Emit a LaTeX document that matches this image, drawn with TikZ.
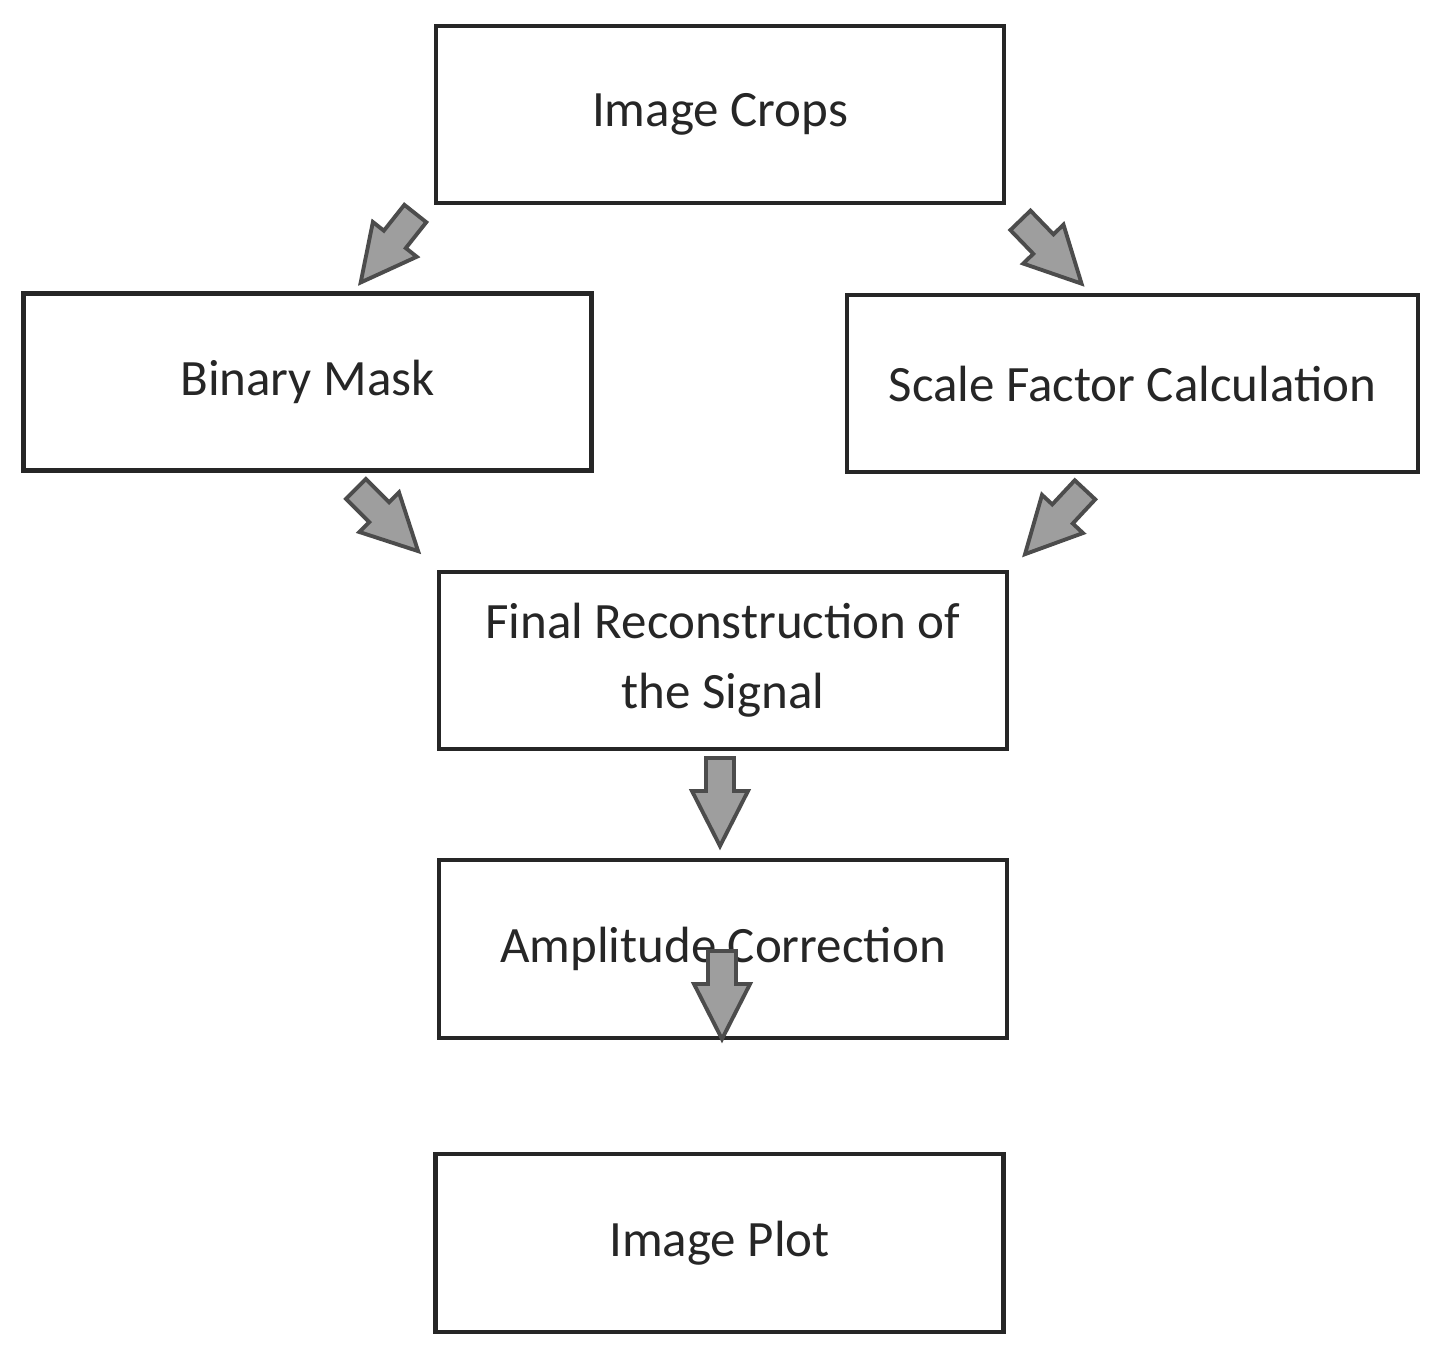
\documentclass[tikz,border=0pt]{standalone}
\usepackage{fontspec}
\setmainfont{Carlito}
\begin{document}
\begin{tikzpicture}[
  box/.style={draw=black!85, line width=1.3pt, minimum width=5.68cm, minimum height=1.77cm, align=center, font=\fontsize{14.5}{20}\selectfont, text=black!85},
  barrow/.pic={\draw[draw=black!70, fill=black!38, line width=1.1pt, line join=miter]
     (-0.14,0.44) -- (0.14,0.44) -- (0.14,0.11) -- (0.28,0.11) -- (0,-0.44) -- (-0.28,0.11) -- (-0.14,0.11) -- cycle;}
]
\useasboundingbox (0,0) rectangle (14.37,-13.56);
\node[box] (crops) at (7.20,-1.145) {Image Crops};
\node[box] (mask) at (3.075,-3.82) {Binary Mask};
\node[box, minimum width=5.71cm] (scale) at (11.325,-3.835) {Scale Factor Calculation};
\node[box] (final) at (7.23,-6.605) {Final Reconstruction of\\the Signal};
\node[box, minimum height=1.78cm] (amp) at (7.23,-9.49) {Amplitude Correction};
\node[box, minimum height=1.78cm] (plot) at (7.195,-12.43) {Image Plot};
\pic[rotate=-38.4] at (3.88,-2.48) {barrow};
\pic[rotate=44] at (10.51,-2.52) {barrow};
\pic[rotate=45] at (3.87,-5.20) {barrow};
\pic[rotate=-43] at (10.55,-5.22) {barrow};
\pic at (7.20,-8.02) {barrow};
\pic at (7.22,-9.95) {barrow};
\end{tikzpicture}
\end{document}
